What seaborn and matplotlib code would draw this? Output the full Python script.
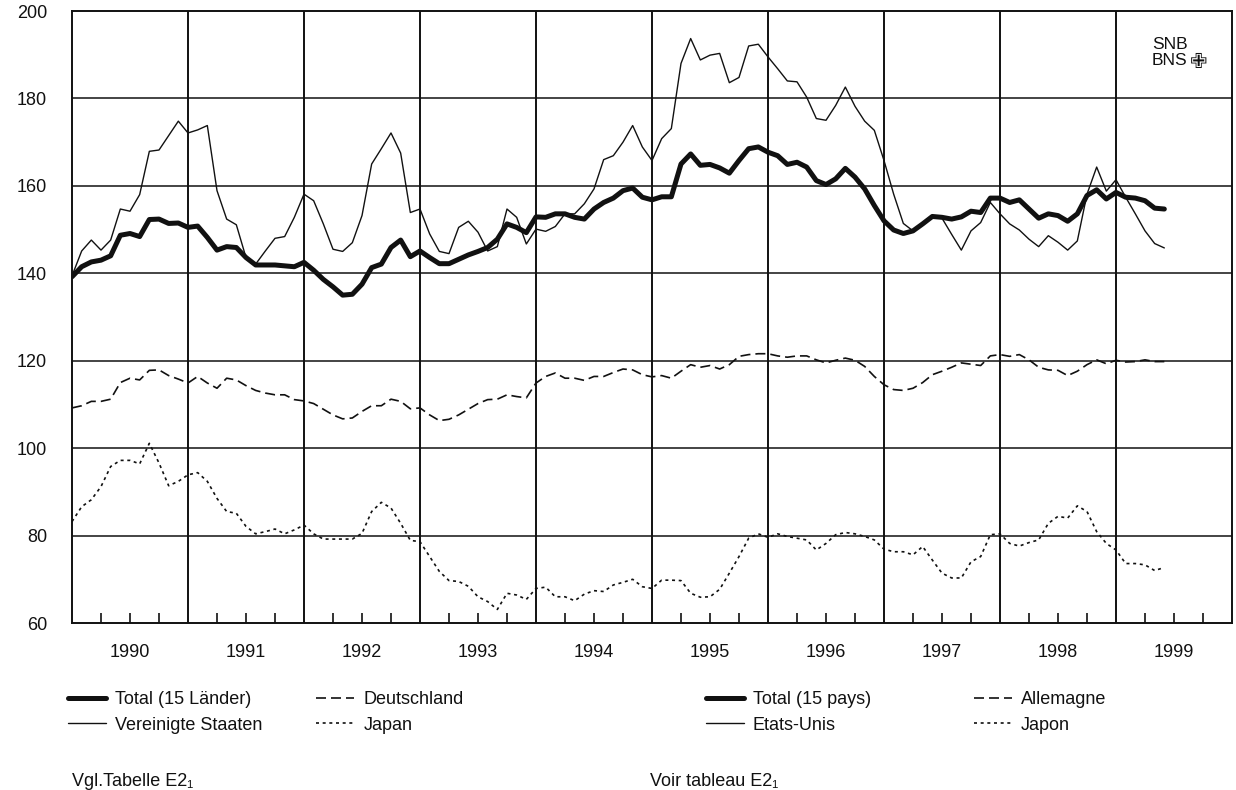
import numpy as np
import pandas as pd
import seaborn as sns
import matplotlib.pyplot as plt
from matplotlib.lines import Line2D

# <=============================================================>
#  Data (monthly, Jan 1990 onwards)
# <=============================================================>
TOTAL = [139.2, 141.5, 142.6, 143.0, 144.0, 148.7, 149.1, 148.4, 152.3, 152.4, 151.4, 151.5,
         150.5, 150.8, 148.2, 145.3, 146.1, 145.9, 143.6, 141.9, 141.9, 141.9, 141.7, 141.5,
         142.5, 140.7, 138.6, 136.9, 135.0, 135.2, 137.5, 141.3, 142.1, 145.9, 147.6, 143.8,
         145.1, 143.6, 142.2, 142.2, 143.2, 144.2, 145.0, 145.9, 147.8, 151.3, 150.5, 149.3,
         152.9, 152.8, 153.6, 153.6, 152.8, 152.4, 154.7, 156.2, 157.2, 158.9, 159.5, 157.4,
         156.8, 157.5, 157.5, 165.0, 167.3, 164.7, 164.9, 164.1, 162.9, 165.8, 168.5, 168.9,
         167.7, 166.9, 164.9, 165.4, 164.3, 161.2, 160.3, 161.6, 164.0, 162.0, 159.3, 155.5,
         152.0, 149.9, 149.1, 149.7, 151.3, 153.0, 152.8, 152.4, 152.9, 154.2, 153.9, 157.2,
         157.2, 156.2, 156.8, 154.7, 152.6, 153.6, 153.2, 151.9, 153.6, 157.8, 159.1, 157.0,
         158.5, 157.4, 157.2, 156.6, 154.9, 154.7]
USA = [139.4, 145.1, 147.6, 145.3, 147.6, 154.7, 154.2, 158.0, 167.9, 168.2, 171.5, 174.8,
       172.1, 172.8, 173.8, 158.9, 152.4, 151.1, 143.6, 142.1, 145.1, 148.0, 148.4, 152.8,
       158.1, 156.6, 151.3, 145.5, 145.0, 147.0, 153.2, 165.0, 168.5, 172.1, 167.5, 153.9,
       154.7, 149.0, 145.0, 144.5, 150.5, 151.9, 149.4, 145.1, 146.1, 154.7, 152.8, 146.7,
       150.1, 149.6, 150.7, 153.6, 153.6, 155.9, 159.3, 166.0, 166.9, 170.0, 173.8, 168.9,
       165.8, 170.8, 173.1, 188.0, 193.7, 188.8, 189.9, 190.3, 183.6, 184.8, 192.0, 192.4,
       189.5, 186.8, 184.0, 183.8, 180.3, 175.4, 175.0, 178.4, 182.6, 178.2, 174.8, 172.7,
       165.8, 158.1, 151.4, 149.7, 151.1, 152.8, 152.6, 148.9, 145.3, 149.7, 151.6, 156.2,
       153.6, 151.3, 149.9, 147.8, 146.1, 148.6, 147.1, 145.3, 147.4, 158.1, 164.3, 158.8,
       161.4, 157.4, 153.6, 149.7, 146.8, 145.8]
GERMANY = [109.2, 109.7, 110.7, 110.7, 111.2, 115.0, 116.0, 115.6, 117.8, 117.9, 116.6, 115.8,
           114.9, 116.4, 114.9, 113.7, 116.0, 115.6, 114.3, 113.2, 112.6, 112.2, 112.2, 111.1,
           110.8, 110.2, 108.9, 107.6, 106.7, 106.9, 108.4, 109.7, 109.7, 111.2, 110.7, 109.0,
           109.2, 107.6, 106.3, 106.6, 107.6, 108.9, 110.2, 111.1, 111.2, 112.2, 111.8, 111.5,
           114.9, 116.4, 117.2, 116.0, 116.0, 115.5, 116.4, 116.4, 117.3, 118.1, 117.9, 116.8,
           116.3, 116.6, 116.0, 117.6, 119.1, 118.5, 118.9, 118.1, 119.1, 121.0, 121.4, 121.6,
           121.6, 121.1, 120.8, 121.1, 121.1, 120.2, 119.5, 120.1, 120.6, 120.1, 118.7, 116.4,
           114.5, 113.4, 113.2, 113.7, 115.0, 116.8, 117.6, 118.5, 119.5, 119.2, 118.9, 121.1,
           121.4, 121.0, 121.4, 120.2, 118.5, 117.9, 117.8, 116.6, 117.6, 119.1, 120.2, 119.3,
           120.1, 119.7, 119.8, 120.2, 119.8, 119.8]
JAPAN = [83.2, 86.6, 88.2, 91.2, 95.8, 97.2, 97.2, 96.4, 101.1, 96.6, 91.4, 92.4,
         93.9, 94.4, 92.4, 88.5, 85.5, 85.1, 82.1, 80.4, 80.9, 81.5, 80.4, 81.3,
         82.4, 80.4, 79.2, 79.2, 79.2, 79.2, 80.5, 85.5, 87.6, 86.3, 82.8, 78.9,
         78.6, 75.2, 71.8, 69.7, 69.5, 68.4, 66.0, 64.9, 63.1, 66.8, 66.4, 65.4,
         67.9, 68.2, 66.0, 66.0, 65.1, 66.6, 67.4, 67.2, 68.7, 69.3, 70.0, 68.3,
         67.9, 69.8, 69.8, 69.7, 66.8, 65.9, 66.0, 67.7, 71.4, 75.2, 79.4, 80.4,
         79.6, 80.4, 79.8, 79.4, 79.0, 76.7, 78.2, 80.2, 80.7, 80.4, 79.8, 79.0,
         76.9, 76.3, 76.3, 75.6, 77.5, 74.4, 71.4, 70.3, 70.3, 74.0, 75.2, 80.2,
         80.4, 78.2, 77.6, 78.4, 79.0, 82.8, 84.4, 84.0, 86.8, 85.5, 80.9, 78.2,
         76.7, 73.6, 73.6, 73.3, 72.0, 72.7]
YEARS = list(range(1990, 2000))
Y_TICKS = [60, 80, 100, 120, 140, 160, 180, 200]

LABELS_DE = ['Total (15 Länder)', 'Vereinigte Staaten', 'Deutschland', 'Japan']
LABELS_FR = ['Total (15 pays)', 'Etats-Unis', 'Allemagne', 'Japon']

# <=============================================================>
#  Styles
# <=============================================================>
sns.set_style('white')
plt.rcParams['font.family'] = ['Liberation Sans', 'DejaVu Sans']
INK = '#111111'
STYLES = {
    'total':   dict(lw=3.6, ls='-'),
    'usa':     dict(lw=1.0, ls='-'),
    'germany': dict(lw=1.2, ls=(0, (6, 3))),
    'japan':   dict(lw=1.2, ls=(0, (1.8, 2.2))),
}

df = pd.DataFrame({'month': np.arange(len(TOTAL)), 'total': TOTAL, 'usa': USA,
                   'germany': GERMANY, 'japan': JAPAN})

fig = plt.figure(figsize=(12.36, 7.90), dpi=100)
ax = fig.add_axes([72 / 1236, 1 - 623 / 790, 1160 / 1236, 612 / 790])

for key in ['germany', 'japan', 'usa', 'total']:
    st = STYLES[key]
    sns.lineplot(data=df, x='month', y=key, ax=ax, color=INK,
                 linewidth=st['lw'], linestyle=st['ls'], legend=False)

# <=============================================================>
#  Axes, grid, ticks
# <=============================================================>
n_years = len(YEARS)
ax.set_xlim(0, 12 * n_years)
ax.set_ylim(Y_TICKS[0], Y_TICKS[-1])
for b in range(12, 12 * n_years, 12):
    ax.axvline(b, color=INK, lw=1.4, zorder=0)
for v in Y_TICKS[1:-1]:
    ax.axhline(v, color=INK, lw=1.1, zorder=0)
for s in ax.spines.values():
    s.set_color(INK)
    s.set_linewidth(1.4)

ax.set_xticks([12 * i + 6 for i in range(n_years)], [str(y) for y in YEARS])
ax.set_xticks([12 * i + q for i in range(n_years) for q in (3, 9)], minor=True)
ax.tick_params(axis='x', which='both', direction='in', length=7, width=1.2,
               color=INK, bottom=True, top=False)
ax.tick_params(axis='x', which='major', pad=15, labelsize=13, labelcolor=INK)
ax.set_yticks(Y_TICKS, [str(v) for v in Y_TICKS])
ax.tick_params(axis='y', length=0, pad=18, labelsize=13, labelcolor=INK)
ax.set_xlabel('')
ax.set_ylabel('')

# logo
ax.text(0.931, 0.958, 'SNB\nBNS', transform=ax.transAxes, fontsize=12.5,
        va='top', ha='left', linespacing=1.1, color=INK)
ax.text(0.964, 0.917, '\u2719', transform=ax.transAxes, fontsize=15,
        va='center', ha='left', color=INK, family='DejaVu Sans')

# <=============================================================>
#  Legends
# <=============================================================>
order = ['total', 'usa', 'germany', 'japan']
handles = [Line2D([], [], color=INK, linewidth=STYLES[k]['lw'], linestyle=STYLES[k]['ls'])
           for k in order]
leg_kw = dict(loc='upper left', ncol=2, frameon=False, fontsize=13, handlelength=2.1,
              handletextpad=0.5, borderpad=0, borderaxespad=0, labelspacing=0.48,
              labelcolor=INK)
fig.legend(handles, LABELS_DE, bbox_to_anchor=(68 / 1236, 1 - 691 / 790),
           columnspacing=3.0, **leg_kw)
fig.legend(handles, LABELS_FR, bbox_to_anchor=(706 / 1236, 1 - 691 / 790),
           columnspacing=5.7, **leg_kw)

fig.text(72 / 1236, 1 - 781 / 790, 'Vgl.Tabelle E2\u2081', fontsize=13, va='center', color=INK)
fig.text(650 / 1236, 1 - 781 / 790, 'Voir tableau E2\u2081', fontsize=13, va='center', color=INK)

fig.savefig('out.png', dpi=100)
